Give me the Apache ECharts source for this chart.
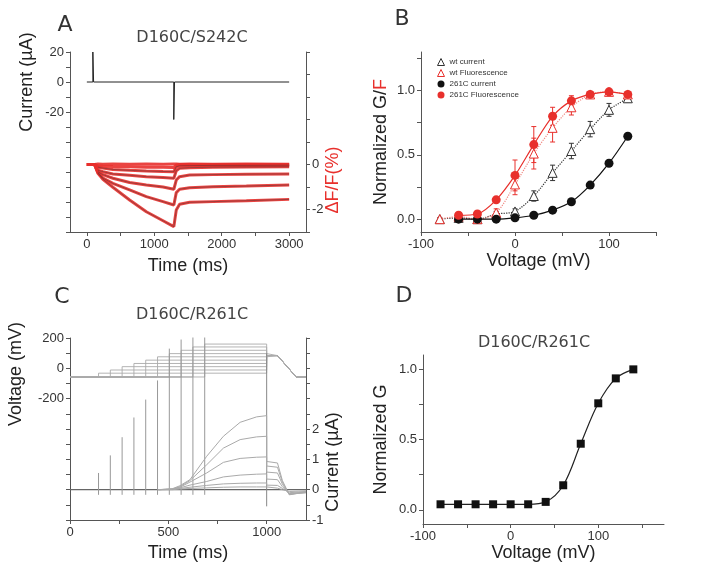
<!DOCTYPE html>
<html><head><meta charset="utf-8">
<script src="https://cdn.jsdelivr.net/npm/echarts@6/dist/echarts.min.js"></script>
<style>html,body{margin:0;padding:0;background:#fff}#c{width:718px;height:577px}</style>
</head><body><div id="c"></div>
<script>
// ---------- Panel A : D160C/S242C ----------
const aCurrentT = [0, 89, 89, 100, 1289, 1289, 1300, 3000];
const aCurrentV = [0, 0, 20, 0, 0, -25, 0, 0];
const aFluoT = [0, 114, 164, 238, 386, 634, 882, 1130, 1290, 1326, 1375, 1524, 1870, 2365, 3000];
const aFluo = [
  [0, 0, -0.39, -0.66, -1.01, -1.58, -2.10, -2.50, -2.76, -2.02, -1.77, -1.68, -1.65, -1.61, -1.55],
  [0, 0, -0.36, -0.60, -0.84, -1.13, -1.43, -1.65, -1.80, -1.25, -1.10, -1.03, -0.99, -0.96, -0.91],
  [0, 0, -0.32, -0.45, -0.61, -0.80, -0.91, -1.00, -1.10, -0.69, -0.54, -0.47, -0.45, -0.43, -0.42],
  [0, 0, -0.25, -0.32, -0.42, -0.48, -0.54, -0.58, -0.61, -0.28, -0.17, -0.14, -0.12, -0.11, -0.10],
  [0, 0, -0.12, -0.16, -0.22, -0.26, -0.29, -0.31, -0.32, -0.10, -0.06, -0.05, -0.04, -0.04, -0.03],
  [0, 0, -0.05, -0.07, -0.09, -0.10, -0.12, -0.12, -0.13, -0.02, 0, 0, 0, 0, 0],
  [0, 0, 0.02, 0.01, 0.02, 0.01, 0.02, 0.01, 0.02, 0.02, 0.01, 0.02, 0.01, 0.02, 0.01]
];
const aXTicks = [0, 500, 1000, 1500, 2000, 2500, 3000];
const aXLabels = [0, 1000, 2000, 3000];
const aYLeftTicks = [-100, -90, -80, -70, -60, -50, -40, -30, -20, -10, 0, 10, 20];
const aYLeftLabels = [20, 0, -20];
const aYRightTicks = [-3, -2, -1, 0, 1, 2, 3, 4, 5];
const aYRightLabels = [0, -2];

// ---------- Panel B ----------
const bVoltWt = [-80, -60, -40, -20, 0, 20, 40, 60, 80, 100, 120];
const bWtCurrent = [0, 0.01, 0.0, 0.04, 0.06, 0.18, 0.36, 0.53, 0.70, 0.85, 0.94];
const bWtCurrentErr = [0.01, 0.01, 0.01, 0.02, 0.02, 0.04, 0.06, 0.06, 0.06, 0.05, 0.03];
const bWtFluor = [0.0, 0.02, 0.0, 0.05, 0.27, 0.51, 0.71, 0.87, 0.97, 0.99, 0.97];
const bWtFluorErr = [0.01, 0.01, 0.01, 0.03, 0.08, 0.12, 0.11, 0.06, 0.02, 0.01, 0.02];
const bVolt261 = [-60, -40, -20, 0, 20, 40, 60, 80, 100, 120];
const b261Current = [0.0, 0.0, 0.0, 0.01, 0.03, 0.07, 0.135, 0.265, 0.435, 0.645];
const b261CurrentErr = [0.005, 0.005, 0.005, 0.005, 0.01, 0.01, 0.01, 0.02, 0.02, 0.01];
const b261Fluor = [0.03, 0.04, 0.15, 0.34, 0.58, 0.80, 0.92, 0.97, 0.99, 0.97];
const b261FluorErr = [0.01, 0.02, 0.02, 0.12, 0.14, 0.07, 0.04, 0.02, 0.01, 0.01];
const bXTicks = [-100, -50, 0, 50, 100, 150];
const bXLabels = [-100, 0, 100];
const bYTicks = [0, 0.25, 0.5, 0.75, 1, 1.25];
const bYLabels = [0, 0.5, 1];

// ---------- Panel C : D160C/R261C traces ----------
const cHold = -57, cTail = 84;
const cStepStart = [145, 205, 265, 325, 385, 445, 505, 565, 625, 685];
const cStepLevel = [-32, -11, 11, 32, 54, 76, 97, 119, 141, 160];
const cStepEnd = 1000, cTailEnd = 1055, cRampEnd = 1150, cTraceEnd = 1200;
const cSpikeAmp = [0.55, 1.13, 1.73, 2.38, 2.97, 3.6, 4.65, 4.95, 5.3, 5.3];
const cSpikeLow = -0.17;
const cOffSpike = [1000, -0.55, 4.5];
const cSlowT = [450, 520, 559, 610, 695, 780, 865, 949, 1000];
const cSlow = [
  [0, 0.03, 0.13, 0.33, 1.10, 1.76, 2.22, 2.40, 2.44],
  [0, 0.02, 0.10, 0.30, 0.82, 1.37, 1.65, 1.74, 1.76],
  [0, 0.02, 0.08, 0.25, 0.55, 0.90, 1.03, 1.07, 1.08],
  [0, 0.01, 0.06, 0.15, 0.27, 0.42, 0.48, 0.51, 0.52],
  [0, 0.01, 0.04, 0.08, 0.14, 0.19, 0.21, 0.22, 0.22],
  [0, 0, 0.02, 0.04, 0.06, 0.08, 0.09, 0.09, 0.09]
];
const cTailT = [1000, 1055, 1080, 1115, 1160, 1200];
const cTails = [
  [0.93, 0.88, 0.30, -0.17, -0.12, -0.10],
  [0.78, 0.74, 0.25, -0.16, -0.12, -0.10],
  [0.58, 0.55, 0.18, -0.15, -0.11, -0.09],
  [0.35, 0.33, 0.10, -0.13, -0.10, -0.08],
  [0.15, 0.14, 0.04, -0.10, -0.08, -0.06],
  [0.05, 0.05, 0.00, -0.06, -0.05, -0.04]
];
const cXTicks = [0, 250, 500, 750, 1000];
const cXLabels = [0, 500, 1000];
const cYLeftTicks = [-1000, -900, -800, -700, -600, -500, -400, -300, -200, -100, 0, 100, 200];
const cYLeftLabels = [200, 0, -200];
const cYRightTicks = [-1, -0.5, 0, 0.5, 1, 1.5, 2, 2.5, 3, 3.5, 4, 4.5, 5];
const cYRightLabels = [2, 1, 0, -1];

// ---------- Panel D ----------
const dVolt = [-80, -60, -40, -20, 0, 20, 40, 60, 80, 100, 120, 140];
const dG = [0.04, 0.04, 0.04, 0.04, 0.04, 0.04, 0.057, 0.175, 0.47, 0.757, 0.934, 0.998];
const dXTicks = [-100, -50, 0, 50, 100, 150];
const dXLabels = [-100, 0, 100];
const dYTicks = [0, 0.25, 0.5, 0.75, 1];
const dYLabels = [0, 0.5, 1];

// ---------- helpers ----------
const RED = '#e8302c';
const AX = '#555';
const tickFont = 'Liberation Sans';
const zip = (xs, ys) => xs.map((x, i) => [x, ys[i]]);
const plain = v => String(v);
const f1 = v => Number(v).toFixed(1);

function axisBase(extra) {
  return Object.assign({
    type: 'value',
    axisLine: { show: true, onZero: false, lineStyle: { color: AX, width: 1 } },
    axisTick: { show: true, length: 4, lineStyle: { color: AX } },
    axisLabel: { color: '#333', fontSize: 13, fontFamily: tickFont, margin: 6, formatter: plain },
    splitLine: { show: false },
    nameTextStyle: { color: '#222', fontSize: 18, fontFamily: 'Liberation Sans' }
  }, extra);
}
function setTicks(ax, ticks, labels, fmt) {
  ax.axisTick.customValues = ticks;
  ax.axisLabel.customValues = labels;
  if (fmt) ax.axisLabel.formatter = fmt;
  return ax;
}

function errSeries(xArr, yArr, eArr, color, xi, yi) {
  return {
    type: 'custom', xAxisIndex: xi, yAxisIndex: yi, silent: true, z: 1,
    encode: { x: 0, y: [1, 2] },
    data: xArr.map((x, i) => [x, yArr[i] - eArr[i], yArr[i] + eArr[i]]),
    renderItem: (params, api) => {
      const lo = api.coord([api.value(0), api.value(1)]);
      const hi = api.coord([api.value(0), api.value(2)]);
      const w = 2.5;
      const st = { stroke: color, lineWidth: 1 };
      return { type: 'group', children: [
        { type: 'line', shape: { x1: lo[0], y1: lo[1], x2: hi[0], y2: hi[1] }, style: st },
        { type: 'line', shape: { x1: lo[0] - w, y1: lo[1], x2: lo[0] + w, y2: lo[1] }, style: st },
        { type: 'line', shape: { x1: hi[0] - w, y1: hi[1], x2: hi[0] + w, y2: hi[1] }, style: st }
      ] };
    }
  };
}

// ---------- axes ----------
const xAxes = [
  setTicks(axisBase({ gridIndex: 0, min: -250, max: 3250, name: 'Time (ms)', nameLocation: 'middle', nameGap: 25 }), aXTicks, aXLabels),
  setTicks(axisBase({ gridIndex: 1, min: -100, max: 150, name: 'Voltage (mV)', nameLocation: 'middle', nameGap: 20 }), bXTicks, bXLabels),
  setTicks(axisBase({ gridIndex: 2, min: 0, max: 1200, name: 'Time (ms)', nameLocation: 'middle', nameGap: 24 }), cXTicks, cXLabels),
  setTicks(axisBase({ gridIndex: 3, min: -100, max: 175, name: 'Voltage (mV)', nameLocation: 'middle', nameGap: 20 }), dXTicks, dXLabels)
];
const yAxes = [
  setTicks(axisBase({ gridIndex: 0, min: -100, max: 20, position: 'left' }), aYLeftTicks, aYLeftLabels),
  setTicks(axisBase({ gridIndex: 0, min: -3, max: 5, position: 'right' }), aYRightTicks, aYRightLabels),
  setTicks(axisBase({ gridIndex: 1, min: -0.1, max: 1.3, position: 'left', name: 'Normalized G/{r|F}', nameLocation: 'middle', nameGap: 31 }), bYTicks, bYLabels, f1),
  setTicks(axisBase({ gridIndex: 2, min: -1000, max: 200, position: 'left' }), cYLeftTicks, cYLeftLabels),
  setTicks(axisBase({ gridIndex: 2, min: -1, max: 5, position: 'right' }), cYRightTicks, cYRightLabels),
  setTicks(axisBase({ gridIndex: 3, min: -0.1, max: 1.1, position: 'left', name: 'Normalized G', nameLocation: 'middle', nameGap: 33 }), dYTicks, dYLabels, f1)
];
yAxes[2].nameTextStyle.rich = { r: { color: RED, fontSize: 18, fontFamily: 'Liberation Sans' } };

// ---------- series ----------
const series = [];
const line = (o) => Object.assign({ type: 'line', showSymbol: false, symbol: 'none', silent: true, animation: false }, o);

// Panel A
series.push(line({ xAxisIndex: 0, yAxisIndex: 0, data: zip(aCurrentT, aCurrentV), lineStyle: { color: '#222', width: 1 } }));
aFluo.forEach(tr => series.push(line({ xAxisIndex: 0, yAxisIndex: 1, data: zip(aFluoT, tr), lineStyle: { color: RED, width: 3, opacity: 0.9 } })));
aFluo.slice(0, 5).forEach(tr => series.push(line({ xAxisIndex: 0, yAxisIndex: 1, data: zip(aFluoT.slice(2), tr.slice(2)), lineStyle: { color: '#4a3030', width: 0.6, opacity: 0.8 } })));

// Panel B
series.push(errSeries(bVoltWt, bWtCurrent, bWtCurrentErr, '#333', 1, 2));
series.push(errSeries(bVoltWt, bWtFluor, bWtFluorErr, RED, 1, 2));
series.push(errSeries(bVolt261, b261Current, b261CurrentErr, '#111', 1, 2));
series.push(errSeries(bVolt261, b261Fluor, b261FluorErr, RED, 1, 2));
series.push({ type: 'line', name: 'wt current', xAxisIndex: 1, yAxisIndex: 2, data: zip(bVoltWt, bWtCurrent), smooth: 0.3,
  symbol: 'triangle', symbolSize: 9, itemStyle: { color: '#fff', borderColor: '#333', borderWidth: 1 },
  lineStyle: { color: '#333', width: 1.2, type: 'dotted' }, animation: false });
series.push({ type: 'line', name: 'wt Fluorescence', xAxisIndex: 1, yAxisIndex: 2, data: zip(bVoltWt, bWtFluor), smooth: 0.3,
  symbol: 'triangle', symbolSize: 9, itemStyle: { color: '#fff', borderColor: RED, borderWidth: 1 },
  lineStyle: { color: '#f08a84', width: 1.2, type: 'dotted' }, animation: false });
series.push({ type: 'line', name: '261C current', xAxisIndex: 1, yAxisIndex: 2, data: zip(bVolt261, b261Current), smooth: 0.3,
  symbol: 'circle', symbolSize: 9, itemStyle: { color: '#111' },
  lineStyle: { color: '#111', width: 1.2 }, animation: false });
series.push({ type: 'line', name: '261C Fluorescence', xAxisIndex: 1, yAxisIndex: 2, data: zip(bVolt261, b261Fluor), smooth: 0.3,
  symbol: 'circle', symbolSize: 9, itemStyle: { color: RED },
  lineStyle: { color: RED, width: 1.2 }, animation: false });

// Panel C voltage
cStepStart.forEach((s, i) => {
  const d = [[0, cHold], [s, cHold], [s, cStepLevel[i]], [cStepEnd, cStepLevel[i]], [cStepEnd, cTail], [cTailEnd, cTail], [cRampEnd, cHold], [cTraceEnd, cHold]];
  series.push(line({ xAxisIndex: 2, yAxisIndex: 3, data: d, lineStyle: { color: '#aaa', width: 0.9 } }));
});
// Panel C current
series.push(line({ xAxisIndex: 2, yAxisIndex: 4, data: [[0, 0], [cTraceEnd, 0]], lineStyle: { color: '#666', width: 1.2 } }));
cStepStart.forEach((s, i) => {
  series.push(line({ xAxisIndex: 2, yAxisIndex: 4, data: [[s, cSpikeLow], [s, cSpikeAmp[i]]], lineStyle: { color: '#999', width: 1 } }));
});
series.push(line({ xAxisIndex: 2, yAxisIndex: 4, data: [[cOffSpike[0], cOffSpike[1]], [cOffSpike[0], cOffSpike[2]]], lineStyle: { color: '#888', width: 1 } }));
cSlow.forEach((tr, i) => {
  const d = zip(cSlowT, tr).concat(zip(cTailT, cTails[i]));
  series.push(line({ xAxisIndex: 2, yAxisIndex: 4, data: d, lineStyle: { color: '#aaa', width: 1 } }));
});

// Panel D
series.push({ type: 'line', name: 'D160C/R261C G', xAxisIndex: 3, yAxisIndex: 5, data: zip(dVolt, dG), smooth: 0.35,
  symbol: 'rect', symbolSize: 8, itemStyle: { color: '#111' }, lineStyle: { color: '#222', width: 1.2 }, animation: false });

// ---------- texts ----------
const T = (x, y, text, size, color, family, rot) => ({
  type: 'text', x: x, y: y, rotation: rot || 0,
  style: { text: text, fontSize: size, fill: color, fontFamily: family || 'DejaVu Sans', align: 'center', verticalAlign: 'middle' }
});
const graphics = [
  T(65, 25, 'A', 22, '#333', 'DejaVu Sans'),
  T(402, 19, 'B', 22, '#333', 'DejaVu Sans'),
  T(62, 297, 'C', 22, '#333', 'DejaVu Sans'),
  T(404, 296, 'D', 22, '#333', 'DejaVu Sans'),
  T(192, 38, 'D160C/S242C', 16, '#444'),
  T(192, 315, 'D160C/R261C', 16, '#444'),
  T(534, 343, 'D160C/R261C', 16, '#444'),
  T(27, 82, 'Current (\u00b5A)', 18, '#222', 'Liberation Sans', Math.PI / 2),
  T(333, 180, '\u0394F/F(%)', 18, RED, 'Liberation Sans', Math.PI / 2),
  T(16, 374, 'Voltage (mV)', 18, '#222', 'Liberation Sans', Math.PI / 2),
  T(333, 462, 'Current (\u00b5A)', 18, '#222', 'Liberation Sans', Math.PI / 2)
];

const chart = echarts.init(document.getElementById('c'), null, { renderer: 'canvas' });
chart.setOption({
  animation: false,
  backgroundColor: '#fff',
  grid: [
    { left: 70, top: 52, width: 236, height: 180 },
    { left: 421, top: 52, width: 235, height: 180 },
    { left: 70, top: 338, width: 236, height: 182 },
    { left: 423, top: 355, width: 241, height: 169 }
  ],
  xAxis: xAxes,
  yAxis: yAxes,
  legend: {
    orient: 'vertical', left: 437, top: 58, itemWidth: 7, itemHeight: 7, itemGap: 3, padding: 0,
    textStyle: { fontSize: 8, color: '#333', fontFamily: 'Liberation Sans' },
    data: [
      { name: 'wt current', icon: 'triangle', itemStyle: { color: '#fff', borderColor: '#333', borderWidth: 1 } },
      { name: 'wt Fluorescence', icon: 'triangle', itemStyle: { color: '#fff', borderColor: RED, borderWidth: 1 } },
      { name: '261C current', icon: 'circle', itemStyle: { color: '#111' } },
      { name: '261C Fluorescence', icon: 'circle', itemStyle: { color: RED } }
    ]
  },
  graphic: graphics,
  series: series
});
</script>
</body></html>
